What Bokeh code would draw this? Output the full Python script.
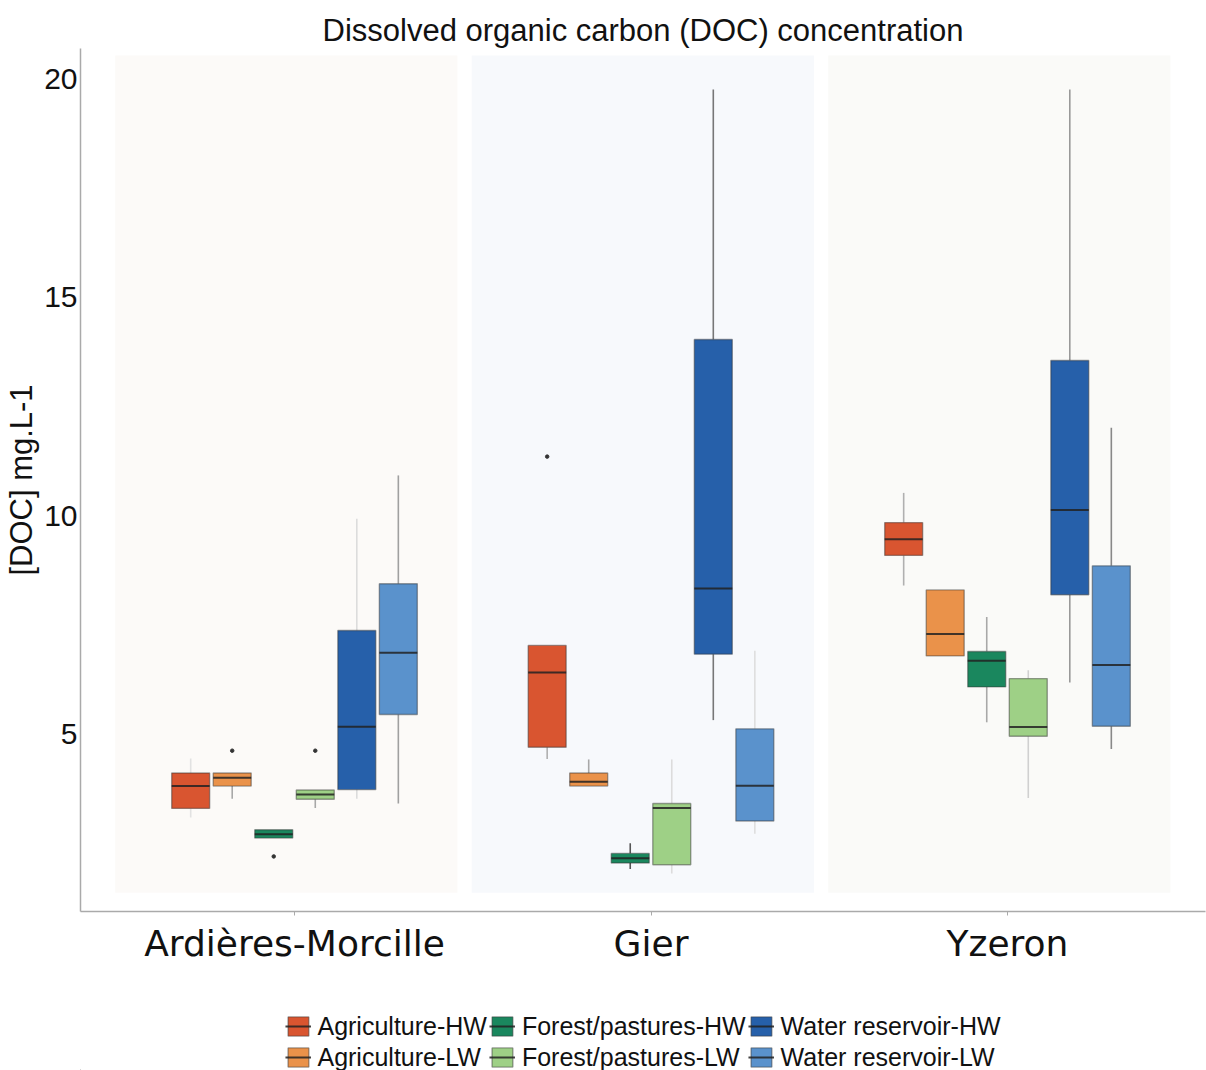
from bokeh.plotting import figure
from bokeh.layouts import column
from bokeh.models import ColumnDataSource, Range1d, FixedTicker, Legend, LegendItem
from bokeh.embed import file_html
from bokeh.resources import INLINE

# ---------------- data ----------------
sites = ["Ardières-Morcille", "Gier", "Yzeron"]
groups = ["Agriculture-HW", "Agriculture-LW", "Forest/pastures-HW",
          "Forest/pastures-LW", "Water reservoir-HW", "Water reservoir-LW"]

# values per group, in site order (Ardières-Morcille, Gier, Yzeron)
agri_hw_low = [3.09, 4.43, 8.40]
agri_hw_q1 = [3.30, 4.70, 9.09]
agri_hw_med = [3.81, 6.41, 9.46]
agri_hw_q3 = [4.11, 7.03, 9.84]
agri_hw_high = [4.44, 7.03, 10.52]

agri_lw_low = [3.52, 3.81, 6.79]
agri_lw_q1 = [3.81, 3.81, 6.79]
agri_lw_med = [4.00, 3.91, 7.29]
agri_lw_q3 = [4.11, 4.11, 8.30]
agri_lw_high = [4.11, 4.42, 8.30]

forest_hw_low = [2.62, 1.91, 5.27]
forest_hw_q1 = [2.62, 2.05, 6.08]
forest_hw_med = [2.71, 2.16, 6.68]
forest_hw_q3 = [2.81, 2.27, 6.89]
forest_hw_high = [2.81, 2.50, 7.68]

forest_lw_low = [3.31, 1.81, 3.54]
forest_lw_q1 = [3.51, 2.01, 4.95]
forest_lw_med = [3.62, 3.31, 5.16]
forest_lw_q3 = [3.72, 3.41, 6.27]
forest_lw_high = [3.72, 4.42, 6.46]

wr_hw_low = [3.52, 5.32, 6.18]
wr_hw_q1 = [3.73, 6.83, 8.19]
wr_hw_med = [5.17, 8.33, 10.13]
wr_hw_q3 = [7.37, 14.03, 13.55]
wr_hw_high = [9.93, 19.75, 19.75]

wr_lw_low = [3.41, 2.72, 4.66]
wr_lw_q1 = [5.45, 3.01, 5.18]
wr_lw_med = [6.86, 3.82, 6.58]
wr_lw_q3 = [8.44, 5.12, 8.85]
wr_lw_high = [10.92, 6.91, 12.01]

# outliers
outlier_site = ["Ardières-Morcille", "Ardières-Morcille", "Ardières-Morcille", "Gier"]
outlier_group = ["Agriculture-LW", "Forest/pastures-HW", "Forest/pastures-LW", "Agriculture-HW"]
outlier_value = [4.62, 2.20, 4.62, 11.35]

y_ticks = [5, 10, 15, 20]

# ---------------- styles ----------------
colors = ["#D95530", "#EA924A", "#1A875E", "#9ED086", "#2660AA", "#5A92CC"]
whisker_colors = [
    ["#e2e2e2", "#b0b0b0", "#b0b0b0"],
    ["#a8a8a8", "#a8a8a8", "#a8a8a8"],
    ["#a8a8a8", "#555555", "#a8a8a8"],
    ["#a8a8a8", "#dcdcdc", "#d0d0d0"],
    ["#dcdcdc", "#777777", "#999999"],
    ["#a0a0a0", "#dedede", "#888888"],
]
panel_colors = ["#FCFAF8", "#F7F9FC", "#FAFAF8"]
box_line = dict(line_color="#333333", line_alpha=0.45, line_width=1.4)
med_line = dict(line_color="#222222", line_alpha=0.85, line_width=2)

stats = [
    (agri_hw_low, agri_hw_q1, agri_hw_med, agri_hw_q3, agri_hw_high),
    (agri_lw_low, agri_lw_q1, agri_lw_med, agri_lw_q3, agri_lw_high),
    (forest_hw_low, forest_hw_q1, forest_hw_med, forest_hw_q3, forest_hw_high),
    (forest_lw_low, forest_lw_q1, forest_lw_med, forest_lw_q3, forest_lw_high),
    (wr_hw_low, wr_hw_q1, wr_hw_med, wr_hw_q3, wr_hw_high),
    (wr_lw_low, wr_lw_q1, wr_lw_med, wr_lw_q3, wr_lw_high),
]

site_x = [i + 1 for i in range(len(sites))]
dodge = 0.1165
box_w = 0.1065

y_start, y_end = 0.94, 20.69

p = figure(width=1206, height=1010, output_backend="svg", toolbar_location=None,
           x_range=Range1d(0.3997, 3.5554), y_range=Range1d(y_start, y_end),
           min_border_left=80, min_border_top=48, min_border_bottom=99, min_border_right=1,
           title="Dissolved organic carbon (DOC) concentration")
p.outline_line_color = None
p.xgrid.grid_line_color = None
p.ygrid.grid_line_color = None
p.background_fill_color = "white"

p.title.text_font = "Liberation Sans"
p.title.text_font_size = "31px"
p.title.text_font_style = "normal"
p.title.text_color = "#111111"
p.title.align = "center"
p.title.standoff = 2

# panel backgrounds
half = 0.48
shift = -0.023
p.quad(left=[x + shift - half for x in site_x], right=[x + shift + half for x in site_x],
       bottom=[y_start + 0.43] * 3, top=[y_end - 0.16] * 3,
       fill_color=panel_colors, line_color=None)

for k, g in enumerate(groups):
    low, q1, med, q3, high = stats[k]
    xs = [x + (k - 2.5) * dodge for x in site_x]
    src = ColumnDataSource(dict(x=xs, low=low, q1=q1, med=med, q3=q3, high=high,
                                wc=whisker_colors[k],
                                xl=[x - box_w / 2 for x in xs], xr=[x + box_w / 2 for x in xs]))
    p.segment(x0="x", x1="x", y0="q3", y1="high", source=src, line_color="wc", line_width=1.6)
    p.segment(x0="x", x1="x", y0="low", y1="q1", source=src, line_color="wc", line_width=1.6)
    p.vbar(x="x", width=box_w, bottom="q1", top="q3", source=src,
           fill_color=colors[k], **box_line)
    p.segment(x0="xl", x1="xr", y0="med", y1="med", source=src, **med_line)

ox = [site_x[sites.index(s)] + (groups.index(g) - 2.5) * dodge
      for s, g in zip(outlier_site, outlier_group)]
p.scatter(x=ox, y=outlier_value, size=3.5, color="#333333")

# axes
p.xaxis.ticker = FixedTicker(ticks=site_x)
p.xaxis.major_label_overrides = {x: s for x, s in zip(site_x, sites)}
p.xaxis.major_label_text_font = "DejaVu Sans"
p.xaxis.major_label_text_font_size = "36px"
p.xaxis.major_label_text_color = "#111111"
p.xaxis.major_label_standoff = 7
p.xaxis.major_tick_out = 4
p.xaxis.major_tick_in = 0
p.xaxis.major_tick_line_color = "#aaaaaa"
p.xaxis.minor_tick_line_color = None
p.xaxis.axis_line_color = "#aaaaaa"
p.xaxis.axis_line_width = 1.5

p.yaxis.ticker = FixedTicker(ticks=y_ticks)
p.yaxis.major_label_text_font = "Liberation Sans"
p.yaxis.major_label_text_font_size = "30px"
p.yaxis.major_label_text_color = "#111111"
p.yaxis.major_label_standoff = 3
p.yaxis.major_tick_out = 0
p.yaxis.major_tick_in = 0
p.yaxis.minor_tick_line_color = None
p.yaxis.axis_line_color = "#aaaaaa"
p.yaxis.axis_line_width = 1.5
p.yaxis.axis_label = "[DOC] mg.L-1"
p.yaxis.axis_label_text_font = "Liberation Sans"
p.yaxis.axis_label_text_font_size = "31px"
p.yaxis.axis_label_text_font_style = "normal"
p.yaxis.axis_label_text_color = "#111111"
p.yaxis.axis_label_standoff = 2

# ---------------- legend strip ----------------
lf = figure(width=1206, height=60, output_backend="svg", toolbar_location=None,
            x_range=Range1d(0, 1), y_range=Range1d(0, 1),
            x_axis_type=None, y_axis_type=None,
            min_border_left=45, min_border_right=0, min_border_top=3, min_border_bottom=0)
lf.outline_line_color = None
lf.xgrid.grid_line_color = None
lf.ygrid.grid_line_color = None

# key-only renderers, kept outside the visible range of the strip
legend_items = []
for k, g in enumerate(groups):
    b = lf.vbar(x=[-5], top=[-4], bottom=[-5], width=0.1, fill_color=colors[k], **box_line)
    m = lf.segment(x0=[-5], x1=[-4], y0=[-5], y1=[-5], **med_line)
    legend_items.append(LegendItem(label=g, renderers=[b, m]))

legend = Legend(items=legend_items, orientation="vertical", nrows=2,
                label_text_font="Liberation Sans", label_text_font_size="25px",
                label_text_color="#111111", glyph_width=26, glyph_height=24,
                label_height=24, label_standoff=7, spacing=2, padding=0,
                margin=0, border_line_alpha=0, background_fill_alpha=0,
                location="center")
lf.add_layout(legend, "center")

open("out.html", "w").write(file_html(column(p, lf, spacing=0), INLINE))
